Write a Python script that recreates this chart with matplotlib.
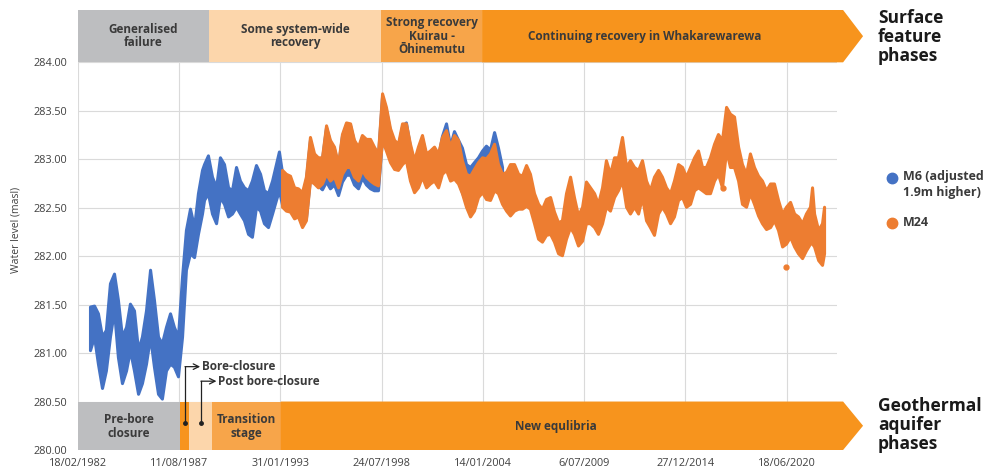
import numpy as np
import matplotlib
matplotlib.use('Agg')
import matplotlib.pyplot as plt
import pandas as pd
from matplotlib.patches import Polygon, Rectangle
from matplotlib.lines import Line2D

plt.rcParams['font.family'] = ['Open Sans', 'DejaVu Sans']

# ---------------------------------------------------------------
# data (decimal year, upper / lower edge of the
# dense daily scatter, m above sea level)

# M6 (adjusted 1.9m higher)
m6_year = [1982.78, 1983.00, 1983.21, 1983.43, 1983.64, 1983.86, 1984.08, 1984.29, 1984.51, 1984.73,
           1984.94, 1985.16, 1985.38, 1985.59, 1985.81, 1986.03, 1986.24, 1986.46, 1986.67, 1986.89,
           1987.11, 1987.32, 1987.54, 1987.76, 1987.97, 1988.19, 1988.41, 1988.62, 1988.84, 1988.95,
           1989.16, 1989.38, 1989.60, 1989.81, 1990.03, 1990.25, 1990.46, 1990.68, 1990.89, 1991.11,
           1991.33, 1991.54, 1991.76, 1991.98, 1992.19, 1992.41, 1992.63, 1992.84, 1993.00, 1993.17,
           1993.38, 1993.60, 1993.82, 1994.03, 1994.25, 1994.46, 1994.68, 1994.90, 1995.11, 1995.33,
           1995.55, 1995.76, 1995.98, 1996.20, 1996.41, 1996.63, 1996.85, 1997.06, 1997.28, 1997.49,
           1997.71, 1997.93, 1998.14, 1998.36, 1998.58, 1998.79, 1999.01, 1999.23, 1999.44, 1999.66,
           1999.87, 2000.09, 2000.31, 2000.52, 2000.74, 2000.96, 2001.17, 2001.39, 2001.61, 2001.82,
           2002.04, 2002.26, 2002.47, 2002.69, 2002.90, 2003.12, 2003.34, 2003.55, 2003.77, 2003.99,
           2004.20, 2004.42, 2004.64, 2004.85, 2005.07]
m6_high = [281.48, 281.49, 281.41, 281.17, 281.24, 281.72, 281.82, 281.55, 281.17, 281.27,
           281.51, 281.44, 281.03, 281.17, 281.44, 281.86, 281.55, 281.17, 281.10, 281.27,
           281.41, 281.27, 281.17, 281.79, 282.27, 282.49, 282.30, 282.65, 282.89, 282.95,
           283.04, 282.82, 282.71, 283.02, 282.95, 282.71, 282.68, 282.92, 282.78, 282.71,
           282.68, 282.78, 282.94, 282.85, 282.68, 282.65, 282.78, 282.95, 283.08, 282.86,
           282.82, 282.80, 282.68, 282.67, 282.63, 282.79, 283.20, 283.03, 282.99, 283.00,
           283.33, 283.18, 283.11, 282.93, 283.24, 283.36, 283.35, 283.18, 283.11, 283.23,
           283.19, 283.19, 283.11, 283.04, 283.65, 283.51, 283.29, 283.17, 283.13, 283.34,
           283.38, 283.13, 282.96, 283.10, 283.22, 283.03, 283.06, 283.10, 283.03, 283.24,
           283.37, 283.14, 283.29, 283.20, 283.12, 282.95, 282.92, 282.97, 283.02, 283.09,
           283.14, 283.10, 283.28, 283.12, 282.92]
m6_low = [281.03, 281.17, 280.89, 280.64, 280.82, 281.17, 281.44, 280.96, 280.69, 280.82,
          281.03, 280.82, 280.58, 280.69, 280.89, 281.17, 280.86, 280.58, 280.53, 280.82,
          280.89, 280.86, 280.76, 281.17, 281.86, 282.03, 281.99, 282.23, 282.44, 282.58,
          282.65, 282.44, 282.34, 282.61, 282.54, 282.41, 282.44, 282.51, 282.44, 282.37,
          282.23, 282.20, 282.51, 282.47, 282.34, 282.30, 282.44, 282.58, 282.68, 282.53,
          282.49, 282.48, 282.41, 282.43, 282.32, 282.39, 282.80, 282.77, 282.73, 282.69,
          282.77, 282.70, 282.74, 282.63, 282.77, 282.84, 282.84, 282.74, 282.70, 282.81,
          282.74, 282.70, 282.68, 282.68, 283.23, 283.12, 283.00, 282.93, 282.92, 282.98,
          283.02, 282.81, 282.69, 282.74, 282.85, 282.74, 282.78, 282.81, 282.74, 282.88,
          282.92, 282.81, 282.83, 282.78, 282.66, 282.55, 282.45, 282.51, 282.65, 282.70,
          282.63, 282.62, 282.72, 282.69, 282.58]

# M24
m24_year = [1993.17, 1993.38, 1993.60, 1993.82, 1994.03, 1994.25, 1994.46, 1994.68, 1994.90, 1995.11,
            1995.33, 1995.55, 1995.76, 1995.98, 1996.20, 1996.41, 1996.63, 1996.85, 1997.06, 1997.28,
            1997.49, 1997.71, 1997.93, 1998.14, 1998.36, 1998.58, 1998.79, 1999.01, 1999.23, 1999.44,
            1999.66, 1999.87, 2000.09, 2000.31, 2000.52, 2000.74, 2000.96, 2001.17, 2001.39, 2001.61,
            2001.82, 2002.04, 2002.26, 2002.47, 2002.69, 2002.90, 2003.12, 2003.34, 2003.55, 2003.77,
            2003.99, 2004.20, 2004.42, 2004.64, 2004.85, 2005.07, 2005.29, 2005.50, 2005.72, 2005.94,
            2006.15, 2006.37, 2006.58, 2006.80, 2007.02, 2007.23, 2007.45, 2007.67, 2007.88, 2008.10,
            2008.31, 2008.53, 2008.75, 2008.96, 2009.18, 2009.40, 2009.61, 2009.83, 2010.05, 2010.26,
            2010.48, 2010.69, 2010.91, 2011.13, 2011.34, 2011.56, 2011.78, 2011.99, 2012.21, 2012.43,
            2012.64, 2012.86, 2013.07, 2013.29, 2013.51, 2013.72, 2013.94, 2014.16, 2014.37, 2014.59,
            2014.81, 2015.02, 2015.24, 2015.46, 2015.67, 2015.89, 2016.10, 2016.32, 2016.54, 2016.75,
            2016.97, 2017.19, 2017.40, 2017.62, 2017.84, 2018.05, 2018.27, 2018.48, 2018.70, 2018.92,
            2019.13, 2019.35, 2019.57, 2019.78, 2020.00, 2020.22, 2020.43, 2020.65, 2020.87, 2021.08,
            2021.30, 2021.51, 2021.73, 2021.84, 2021.95, 2022.17, 2022.38, 2022.49]
m24_high = [282.89, 282.85, 282.83, 282.71, 282.70, 282.66, 282.82, 283.23, 283.06, 283.02,
            283.02, 283.35, 283.20, 283.13, 282.95, 283.26, 283.38, 283.37, 283.20, 283.13,
            283.25, 283.21, 283.21, 283.13, 283.06, 283.68, 283.54, 283.32, 283.20, 283.16,
            283.37, 283.37, 283.16, 282.99, 283.13, 283.25, 283.06, 283.09, 283.13, 283.06,
            283.23, 283.30, 283.13, 283.25, 283.20, 282.99, 282.85, 282.83, 282.90, 282.97,
            283.02, 283.01, 283.06, 283.16, 282.95, 282.85, 282.87, 282.95, 282.95, 282.85,
            282.83, 282.94, 282.85, 282.65, 282.54, 282.49, 282.59, 282.61, 282.46, 282.35,
            282.37, 282.65, 282.82, 282.61, 282.42, 282.51, 282.77, 282.71, 282.65, 282.54,
            282.71, 282.99, 282.85, 283.02, 283.02, 283.23, 282.92, 282.99, 282.92, 282.89,
            282.99, 282.78, 282.68, 282.82, 282.89, 282.82, 282.71, 282.65, 282.78, 282.95,
            282.92, 282.82, 282.92, 283.02, 283.09, 282.92, 282.92, 283.02, 283.16, 283.26,
            283.20, 283.54, 283.47, 283.44, 283.13, 282.95, 282.85, 283.06, 282.92, 282.83,
            282.78, 282.68, 282.75, 282.75, 282.58, 282.44, 282.51, 282.56, 282.44, 282.41,
            282.34, 282.44, 282.51, 282.71, 282.44, 282.27, 282.34, 282.51]
m24_low = [282.51, 282.47, 282.46, 282.39, 282.41, 282.30, 282.37, 282.78, 282.75, 282.71,
           282.75, 282.85, 282.78, 282.82, 282.71, 282.85, 282.92, 282.92, 282.82, 282.78,
           282.89, 282.82, 282.78, 282.75, 282.73, 283.20, 283.09, 282.97, 282.90, 282.89,
           282.95, 282.99, 282.78, 282.66, 282.71, 282.82, 282.71, 282.75, 282.78, 282.71,
           282.85, 282.89, 282.78, 282.80, 282.75, 282.65, 282.51, 282.41, 282.47, 282.61,
           282.66, 282.59, 282.58, 282.68, 282.65, 282.54, 282.47, 282.42, 282.47, 282.49,
           282.49, 282.52, 282.49, 282.34, 282.18, 282.15, 282.22, 282.23, 282.15, 282.03,
           282.01, 282.18, 282.30, 282.23, 282.11, 282.16, 282.34, 282.34, 282.30, 282.23,
           282.34, 282.51, 282.47, 282.61, 282.68, 282.78, 282.51, 282.44, 282.51, 282.44,
           282.61, 282.37, 282.30, 282.22, 282.44, 282.51, 282.44, 282.34, 282.41, 282.58,
           282.61, 282.51, 282.54, 282.68, 282.71, 282.68, 282.65, 282.65, 282.78, 282.85,
           282.71, 283.09, 282.92, 282.92, 282.78, 282.54, 282.51, 282.65, 282.54, 282.42,
           282.34, 282.28, 282.30, 282.37, 282.27, 282.10, 282.13, 282.20, 282.10, 282.03,
           281.98, 282.06, 282.13, 282.13, 282.10, 281.96, 281.91, 282.03]
# single stray M24 readings
m24_out_year = [2017.04, 2020.43]
m24_out_val = [282.70, 281.89]

# phases (decimal year boundaries)
surface_phases = ['Generalised\nfailure', 'Some system-wide\nrecovery',
                  'Strong recovery\nKuirau -\nŌhinemutu', 'Continuing recovery in Whakarewarewa']
surface_bounds = [1982.13, 1989.22, 1998.52, 2003.99, 2023.52]
aquifer_phases = ['Pre-bore\nclosure', '', '', 'Transition\nstage', 'New equlibria']
aquifer_bounds = [1982.13, 1987.65, 1988.14, 1989.38, 1993.10, 2023.52]

tick_dates = ['18/02/1982', '11/08/1987', '31/01/1993', '24/07/1998',
              '14/01/2004', '6/07/2009', '27/12/2014', '18/06/2020']


def dec_year(s):
    d = pd.to_datetime(s, dayfirst=True)
    n = 366 if d.is_leap_year else 365
    return d.year + (d.dayofyear - 1) / n


c_blue = '#4472C4'
c_orange = '#ED7D31'
c_grey = '#BDBEC0'
c_light = '#FCD6AB'
c_mid = '#F7A54A'
c_dark = '#F7941D'
txt = '#3a3a3a'

fig = plt.figure(figsize=(9.93, 4.75), dpi=100)
ax = fig.add_axes([78/993, 25/475, 759/993, 440/475])

x0 = dec_year(tick_dates[0])
ax.set_xlim(x0, 2023.19)
ax.set_ylim(280, 284.54)

# grid
for s in tick_dates:
    ax.axvline(dec_year(s), color='#DADADA', lw=0.8, zorder=0)
for yv in np.arange(280, 284.01, 0.5):
    ax.axhline(yv, color='#DADADA', lw=0.8, zorder=0)

# series
ax.fill_between(m6_year, m6_low, m6_high, color=c_blue, lw=2.2, edgecolor=c_blue,
                joinstyle='round', zorder=2)
ax.fill_between(m24_year, m24_low, m24_high, color=c_orange, lw=2.2, edgecolor=c_orange,
                joinstyle='round', zorder=3)
ax.plot(m24_out_year, m24_out_val, 'o', color=c_orange, ms=3.5, zorder=3)

# phase bands
tip = 2024.60


def band(bounds, colors, y0, y1):
    for i, c in enumerate(colors):
        a, b = bounds[i], bounds[i + 1]
        if i == len(colors) - 1:
            pts = [(a, y0), (b, y0), (tip, (y0 + y1) / 2), (b, y1), (a, y1)]
            ax.add_patch(Polygon(pts, closed=True, fc=c, ec='none', zorder=4, clip_on=False))
        else:
            ax.add_patch(Rectangle((a, y0), b - a, y1 - y0, fc=c, ec='none', zorder=4, clip_on=False))


band(surface_bounds, [c_grey, c_light, c_mid, c_dark], 284.0, 284.54)
band(aquifer_bounds, [c_grey, c_dark, c_light, c_mid, c_dark], 280.0, 280.5)

lab_x = [(surface_bounds[0] + surface_bounds[1]) / 2, (surface_bounds[1] + surface_bounds[2]) / 2,
         (surface_bounds[2] + surface_bounds[3]) / 2, 2012.8]
for lx, t in zip(lab_x, surface_phases):
    ax.text(lx, 284.27, t, ha='center', va='center', fontsize=8.5, fontweight='bold',
            color=txt, linespacing=1.05, zorder=5)

lab_x = [(aquifer_bounds[0] + aquifer_bounds[1]) / 2, 0, 0,
         (aquifer_bounds[3] + aquifer_bounds[4]) / 2, 2008.0]
for lx, t in zip(lab_x, aquifer_phases):
    if t:
        ax.text(lx, 280.24, t, ha='center', va='center', fontsize=8.5, fontweight='bold',
                color=txt, linespacing=1.05, zorder=5)

# bore-closure markers
for xd, yt, xa, t in [(1987.92, 280.86, 1988.74, 'Bore-closure'),
                      (1988.78, 280.71, 1989.62, 'Post bore-closure')]:
    ax.plot([xd], [280.28], 'o', color='#222222', ms=2.5, zorder=6)
    ax.plot([xd, xd], [280.28, yt], color='#222222', lw=0.9, zorder=6, clip_on=False)
    ax.annotate('', xy=(xa, yt), xytext=(xd, yt),
                arrowprops=dict(arrowstyle='->', color='#222222', lw=0.9,
                                shrinkA=0, shrinkB=0), zorder=6)
    ax.text(xa + 0.08, yt, t, ha='left', va='center', fontsize=8.5, fontweight='bold',
            color=txt, zorder=6)

# axes
for sp in ax.spines.values():
    sp.set_visible(False)
ax.set_yticks(np.arange(280, 284.01, 0.5))
ax.set_yticklabels(['%.2f' % v for v in np.arange(280, 284.01, 0.5)])
ax.set_xticks([dec_year(s) for s in tick_dates])
ax.set_xticklabels(tick_dates)
ax.tick_params(length=0, labelsize=7.8, labelcolor='#404040')
ax.tick_params(axis='x', pad=6)
ax.tick_params(axis='y', pad=8)
ax.set_ylabel('Water level (masl)', fontsize=7.5, color='#404040', labelpad=8)

# legend
for yy, c in [(1 - 178/475, c_blue), (1 - 223/475, c_orange)]:
    fig.add_artist(Line2D([892/993], [yy], marker='o', ms=7.5, color=c, ls=''))
fig.text(903/993, 1 - 170/475, 'M6 (adjusted\n1.9m higher)', ha='left', va='top',
         fontsize=9, fontweight='bold', color=txt, linespacing=1.3)
fig.text(903/993, 1 - 223/475, 'M24', ha='left', va='center', fontsize=9,
         fontweight='bold', color=txt)

fig.text(878/993, 1 - 37/475, 'Surface\nfeature\nphases', ha='left', va='center',
         fontsize=12.5, fontweight='bold', color='#1a1a1a', linespacing=1.05)
fig.text(878/993, 1 - 425/475, 'Geothermal\naquifer\nphases', ha='left', va='center',
         fontsize=12.5, fontweight='bold', color='#1a1a1a', linespacing=1.05)

plt.savefig('out.png', dpi=100)
